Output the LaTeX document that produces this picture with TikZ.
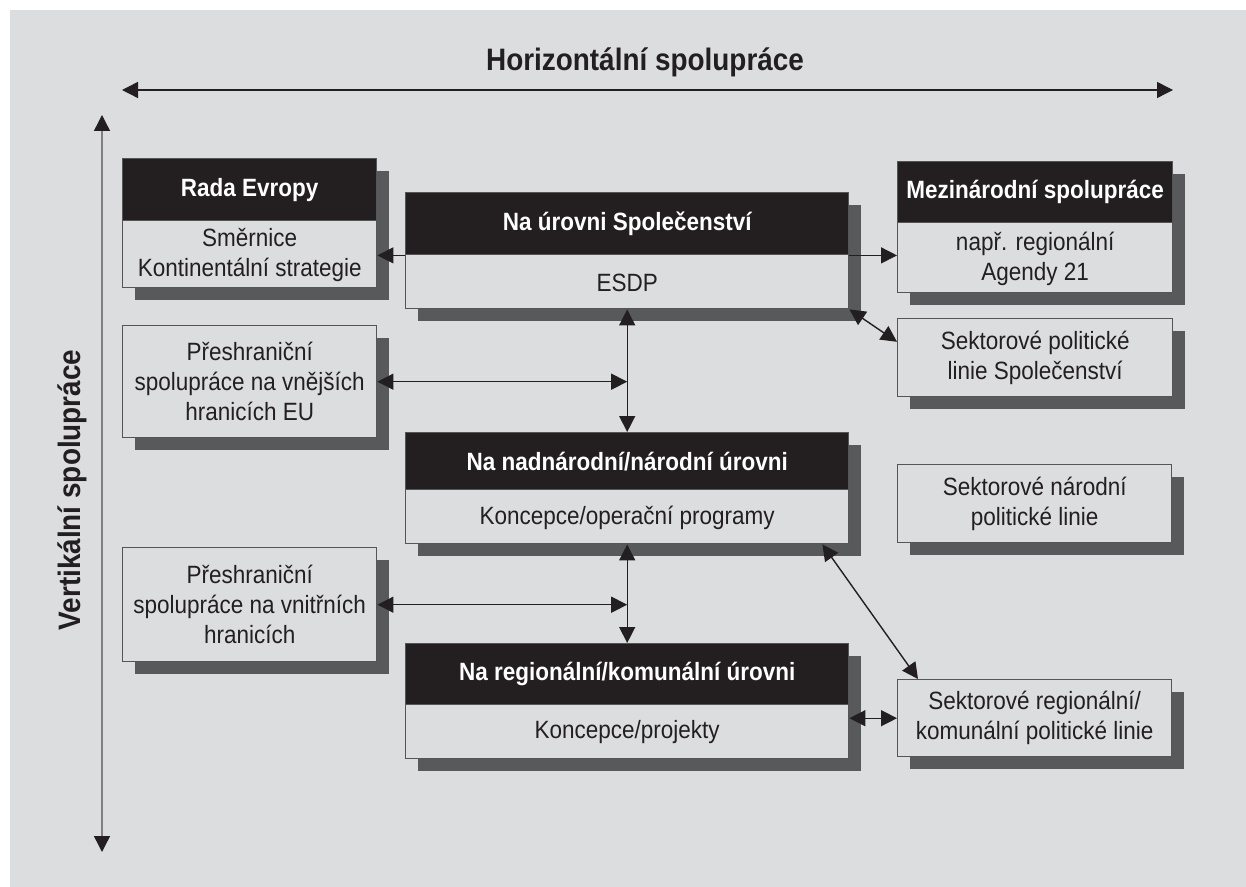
\documentclass[tikz,border=0pt]{standalone}
\usepackage{fontspec}
\setmainfont{Liberation Sans}[FakeStretch=0.9]
\usepackage{tikz}
\usetikzlibrary{arrows.meta,calc,shadows}
\usepackage{xcolor}
\definecolor{PanelGray}{HTML}{DCDDDF}
\definecolor{ShadeGray}{HTML}{58595B}
\definecolor{HeadBlack}{HTML}{231F20}
\definecolor{EdgeGray}{HTML}{555555}

\tikzset{
  panel/.style={draw=EdgeGray,line width=0.7pt,fill=PanelGray,inner sep=0pt,anchor=north west,
    drop shadow={shadow xshift=6pt,shadow yshift=-6pt,fill=ShadeGray,opacity=1}},
  hdr/.style={draw=EdgeGray,line width=0.7pt,fill=HeadBlack,text=white,inner sep=0pt,anchor=north west,
    font=\fontsize{12.5}{15}\selectfont\bfseries},
  txt/.style={align=center,text=HeadBlack,inner sep=0pt,font=\fontsize{12.5}{15}\selectfont},
  biglbl/.style={text=HeadBlack,inner sep=0pt,font=\fontsize{15.5}{18}\selectfont\bfseries},
  arr/.style={-{Triangle[length=8pt,width=8pt]},line width=0.7pt,draw=HeadBlack},
  darr/.style={{Triangle[length=8pt,width=8pt,color=HeadBlack]}-{Triangle[length=8pt,width=8pt,color=HeadBlack]},
    line width=0.7pt,draw=HeadBlack}
}

\begin{document}
\begin{tikzpicture}[x=0.5pt,y=-0.5pt]
   \fill[white] (0,0) rectangle (1246,887);
   \fill[PanelGray] (10,10) rectangle (1246,887);
   \useasboundingbox (0,0) rectangle (1246,887);

   % axes
   \coordinate (hl) at (122,90);
   \coordinate (hr) at (1173,90);
   \coordinate (vt) at (102,115);
   \coordinate (vb) at (102,852);
   \draw[darr] (hl) -- (hr);
   \draw[darr,draw=gray] (vt) -- (vb);
   \node[biglbl] (hlbl) at (645,62) {Horizontální spolupráce};
   \node[biglbl,rotate=90] (vlbl) at (72,490) {Vertikální spolupráce};

   % left column
   \node[panel,minimum width=127pt,minimum height=64.5pt] (rada) at (122,158) {};
   \node[hdr,minimum width=127pt,minimum height=31pt] (radah) at (rada.north west) {Rada Evropy};
   \node[txt] (radat) at ($(radah.south)!0.5!(rada.south)$) {Směrnice\\Kontinentální strategie};

   \node[panel,minimum width=127pt,minimum height=56pt] (vnejsi) at (122,325) {};
   \node[txt] (vnejsit) at (vnejsi.center) {Přeshraniční\\spolupráce na vnějších\\hranicích EU};

   \node[panel,minimum width=127pt,minimum height=57pt] (vnitr) at (122,547) {};
   \node[txt] (vnitrt) at (vnitr.center) {Přeshraniční\\spolupráce na vnitřních\\hranicích};

   % middle column
   \node[panel,minimum width=221.5pt,minimum height=58pt] (spol) at (405,192) {};
   \node[hdr,minimum width=221.5pt,minimum height=31pt] (spolh) at (spol.north west) {Na úrovni Společenství};
   \node[txt] (spolt) at ($(spolh.south)!0.5!(spol.south)$) {ESDP};

   \node[panel,minimum width=221.5pt,minimum height=55.5pt] (narod) at (405,432) {};
   \node[hdr,minimum width=221.5pt,minimum height=28.5pt] (narodh) at (narod.north west) {Na nadnárodní/národní úrovni};
   \node[txt] (narodt) at ($(narodh.south)!0.5!(narod.south)$) {Koncepce/operační programy};

   \node[panel,minimum width=221.5pt,minimum height=57.5pt] (region) at (405,643) {};
   \node[hdr,minimum width=221.5pt,minimum height=30.5pt] (regionh) at (region.north west) {Na regionální/komunální úrovni};
   \node[txt] (regiont) at ($(regionh.south)!0.5!(region.south)$) {Koncepce/projekty};

   % right column
   \node[panel,minimum width=137.5pt,minimum height=65.5pt] (mezi) at (897,161) {};
   \node[hdr,minimum width=137.5pt,minimum height=30.5pt] (mezih) at (mezi.north west) {Mezinárodní spolupráce};
   \node[txt] (mezit) at ($(mezih.south)!0.5!(mezi.south)$) {např. regionální\\Agendy 21};

   \node[panel,minimum width=137.5pt,minimum height=39pt] (sekspol) at (897,318) {};
   \node[txt] (sekspolt) at (sekspol.center) {Sektorové politické\\linie Společenství};

   \node[panel,minimum width=137pt,minimum height=39pt] (seknar) at (897,464) {};
   \node[txt] (seknart) at (seknar.center) {Sektorové národní\\politické linie};

   \node[panel,minimum width=137pt,minimum height=38.5pt] (sekreg) at (897,679) {};
   \node[txt] (sekregt) at (sekreg.center) {Sektorové regionální/\\komunální politické linie};

   % connectors
   \draw[arr] (spolh.south west) -- (spolh.south west -| rada.east);
   \draw[arr] (spolh.south east) -- (spolh.south east -| mezi.west);
   \draw[darr] (spol.south east) -- ($(sekspol.north west)!0.3!(sekspol.south west)$);
   \draw[darr] (spol.south) -- (narod.north);
   \draw[darr] (vnejsi.east) -- (vnejsi.east -| spol.south);
   \draw[darr] (narod.south) -- (region.north);
   \draw[darr] (vnitr.east) -- (vnitr.east -| narod.south);
   \draw[darr] ($(narod.south east)+(-27,0)$) -- ($(sekreg.north west)+(21,0)$);
   \draw[darr] (sekreg.west -| region.east) -- (sekreg.west);
\end{tikzpicture}
\end{document}
